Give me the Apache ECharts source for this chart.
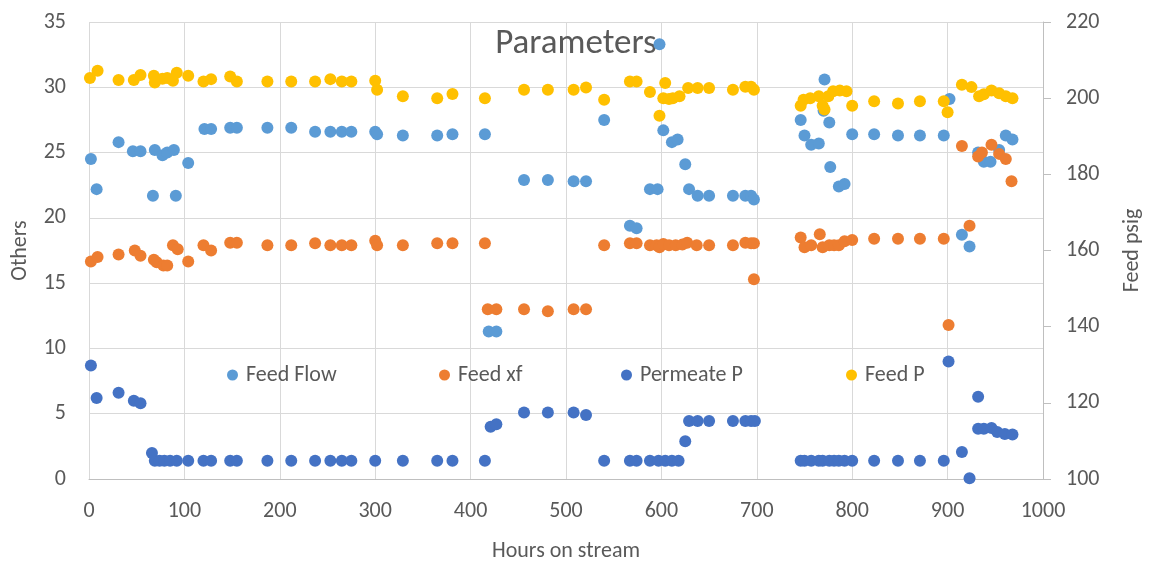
<!DOCTYPE html>
<html>
<head>
<meta charset="utf-8">
<script src="https://cdn.jsdelivr.net/npm/echarts@6/dist/echarts.min.js"></script>
<style>
  html, body { margin: 0; padding: 0; background: #fff; }
  #chart { width: 1151px; height: 567px; }
</style>
</head>
<body>
<div id="chart"></div>
<script>
// Hours on stream and readings for each measured parameter
const feedFlowHours = [2, 8, 31, 46, 54, 67, 69, 77, 82, 89, 91, 104, 121, 128, 148, 155, 187, 212, 237, 253, 265, 275, 300, 302, 329, 365, 381, 415, 419, 427, 456, 481, 508, 521, 540, 567, 574, 588, 596, 598, 602, 611, 617, 625, 629, 638, 650, 675, 688, 694, 697, 746, 750, 757, 765, 770, 771, 776, 777, 786, 792, 800, 823, 848, 871, 896, 902, 915, 923, 932, 938, 945, 954, 961, 968];
const feedFlow = [24.5, 22.2, 25.8, 25.1, 25.1, 21.7, 25.2, 24.8, 25.0, 25.2, 21.7, 24.2, 26.8, 26.8, 26.9, 26.9, 26.9, 26.9, 26.6, 26.6, 26.6, 26.6, 26.6, 26.4, 26.3, 26.3, 26.4, 26.4, 11.3, 11.3, 22.9, 22.9, 22.8, 22.8, 27.5, 19.4, 19.2, 22.2, 22.2, 33.3, 26.7, 25.8, 26.0, 24.1, 22.2, 21.7, 21.7, 21.7, 21.7, 21.7, 21.4, 27.5, 26.3, 25.6, 25.7, 28.2, 30.6, 27.3, 23.9, 22.4, 22.6, 26.4, 26.4, 26.3, 26.3, 26.3, 29.1, 18.7, 17.8, 25.0, 24.3, 24.3, 25.2, 26.3, 26.0];

const feedXfHours = [2, 9, 31, 48, 54, 68, 71, 78, 82, 88, 93, 104, 120, 128, 148, 155, 187, 212, 237, 253, 265, 275, 300, 302, 329, 365, 381, 415, 418, 427, 456, 481, 508, 521, 540, 567, 574, 588, 595, 598, 602, 608, 615, 622, 627, 637, 650, 675, 688, 694, 697, 697, 746, 750, 757, 766, 769, 776, 781, 786, 792, 800, 823, 848, 871, 896, 901, 915, 923, 932, 936, 946, 954, 961, 967];
const feedXf = [16.65, 17.0, 17.2, 17.5, 17.1, 16.8, 16.6, 16.35, 16.35, 17.9, 17.6, 16.65, 17.9, 17.5, 18.1, 18.1, 17.9, 17.9, 18.05, 17.9, 17.9, 17.9, 18.25, 17.9, 17.9, 18.05, 18.05, 18.05, 13.0, 13.0, 13.0, 12.85, 13.0, 13.0, 17.9, 18.05, 18.05, 17.9, 17.9, 17.75, 18.0, 17.9, 17.9, 17.95, 18.1, 17.9, 17.9, 17.9, 18.1, 18.05, 18.05, 15.3, 18.5, 17.75, 17.9, 18.75, 17.75, 17.9, 17.9, 17.9, 18.2, 18.3, 18.4, 18.4, 18.4, 18.4, 11.8, 25.5, 19.4, 24.7, 25.0, 25.6, 24.9, 24.5, 22.8];

const permeatePHours = [2, 8, 31, 47, 54, 66, 69, 74, 79, 85, 92, 104, 120, 128, 148, 155, 187, 212, 237, 253, 265, 275, 300, 329, 365, 381, 415, 421, 427, 456, 481, 508, 521, 540, 567, 574, 588, 597, 604, 611, 618, 625, 629, 638, 650, 675, 688, 694, 698, 746, 750, 757, 765, 769, 776, 781, 786, 792, 800, 823, 848, 871, 896, 901, 915, 923, 932, 932, 938, 946, 952, 960, 968];
const permeateP = [8.7, 6.2, 6.6, 6.0, 5.8, 2.0, 1.4, 1.4, 1.4, 1.4, 1.4, 1.4, 1.4, 1.4, 1.4, 1.4, 1.4, 1.4, 1.4, 1.4, 1.4, 1.4, 1.4, 1.4, 1.4, 1.4, 1.4, 4.0, 4.2, 5.1, 5.1, 5.1, 4.9, 1.4, 1.4, 1.4, 1.4, 1.4, 1.4, 1.4, 1.4, 2.9, 4.45, 4.45, 4.45, 4.45, 4.45, 4.45, 4.45, 1.4, 1.4, 1.4, 1.4, 1.4, 1.4, 1.4, 1.4, 1.4, 1.4, 1.4, 1.4, 1.4, 1.4, 9.0, 2.06, 0.05, 6.3, 3.85, 3.85, 3.9, 3.6, 3.45, 3.4];

const feedPHours = [1, 9, 31, 47, 54, 68, 69, 77, 82, 88, 92, 104, 120, 128, 148, 155, 187, 212, 237, 253, 265, 275, 300, 302, 329, 365, 381, 415, 456, 481, 508, 521, 540, 567, 574, 588, 598, 602, 604, 608, 612, 619, 628, 638, 650, 675, 688, 694, 697, 746, 749, 756, 765, 769, 771, 775, 780, 787, 794, 800, 823, 848, 871, 896, 900, 915, 925, 933, 938, 946, 954, 961, 968];
const feedP = [205.3, 207.2, 204.8, 204.8, 206.1, 205.9, 204.1, 205.1, 205.3, 204.6, 206.7, 205.9, 204.4, 205.0, 205.7, 204.4, 204.4, 204.4, 204.4, 205.0, 204.4, 204.4, 204.6, 202.2, 200.5, 200.0, 201.1, 200.0, 202.2, 202.2, 202.2, 202.8, 199.6, 204.4, 204.4, 201.6, 195.4, 200.0, 204.0, 199.8, 200.0, 200.5, 202.7, 202.7, 202.7, 202.2, 203.0, 203.0, 202.2, 198.0, 199.6, 200.0, 200.5, 198.0, 197.0, 200.5, 201.8, 202.0, 201.8, 198.0, 199.2, 198.6, 199.2, 199.2, 196.3, 203.5, 202.9, 200.5, 201.0, 202.0, 201.3, 200.5, 200.0];

// Axis ranges and tick steps
const hourTicks = { min: 0, max: 1000, step: 100 };
const othersTicks = { min: 0, max: 35, step: 5 };
const psigTicks = { min: 100, max: 220, step: 20 };

const seriesNames = ['Feed Flow', 'Feed xf', 'Permeate P', 'Feed P'];
const seriesColors = ['#5B9BD5', '#ED7D31', '#4472C4', '#FFC000'];

const FONT = 'Carlito, Lato, sans-serif';
const TEXT = '#595959';
const LABEL_SIZE = 22;

function pairs(hours, values) {
  return hours.map((h, i) => [h, values[i]]);
}

function scatter(idx, hours, values, yAxisIndex) {
  return {
    name: seriesNames[idx],
    type: 'scatter',
    yAxisIndex: yAxisIndex,
    symbol: 'circle',
    symbolSize: 12,
    itemStyle: { color: seriesColors[idx], opacity: 1 },
    emphasis: { disabled: true },
    data: pairs(hours, values)
  };
}

// one legend block per entry so each sits at its own spot along the row
const legendLefts = [227, 439, 621, 846];
const legends = seriesNames.map((n, i) => ({
  data: [{ name: n, icon: 'circle' }],
  left: legendLefts[i],
  top: 364,
  itemWidth: 11,
  itemHeight: 11,
  padding: 0,
  selectedMode: false,
  textStyle: { fontFamily: FONT, fontSize: LABEL_SIZE, color: TEXT, padding: [0, 0, 0, 3] }
}));

const chart = echarts.init(document.getElementById('chart'), null, { renderer: 'canvas' });
chart.setOption({
  animation: false,
  backgroundColor: '#ffffff',
  title: {
    text: 'Parameters',
    left: 571,
    textAlign: 'center',
    top: 22,
    z: 1,
    textStyle: { fontFamily: FONT, fontSize: 35, fontWeight: 'normal', color: TEXT }
  },
  legend: legends,
  grid: { left: 89, right: 102, top: 22, bottom: 86, containLabel: false },
  xAxis: {
    type: 'value',
    min: hourTicks.min, max: hourTicks.max, interval: hourTicks.step,
    name: 'Hours on stream',
    nameLocation: 'middle',
    nameGap: 61,
    nameTextStyle: { fontFamily: FONT, fontSize: LABEL_SIZE, color: TEXT },
    axisLine: { show: true, lineStyle: { color: '#BFBFBF', width: 1 } },
    axisTick: { show: false },
    axisLabel: { fontFamily: FONT, fontSize: LABEL_SIZE, color: TEXT, margin: 21, formatter: v => String(v) },
    splitLine: { show: true, lineStyle: { color: '#D9D9D9', width: 1 } }
  },
  yAxis: [
    {
      type: 'value',
      position: 'left',
      min: othersTicks.min, max: othersTicks.max, interval: othersTicks.step,
      name: 'Others',
      nameLocation: 'middle',
      nameRotate: 90,
      nameGap: 58,
      nameTextStyle: { fontFamily: FONT, fontSize: LABEL_SIZE, color: TEXT },
      axisLine: { show: false },
      axisTick: { show: false },
      axisLabel: { fontFamily: FONT, fontSize: LABEL_SIZE, color: TEXT, margin: 23 },
      splitLine: { show: true, lineStyle: { color: '#D9D9D9', width: 1 } }
    },
    {
      type: 'value',
      position: 'right',
      min: psigTicks.min, max: psigTicks.max, interval: psigTicks.step,
      name: 'Feed psig',
      nameLocation: 'middle',
      nameRotate: 90,
      nameGap: 78,
      nameTextStyle: { fontFamily: FONT, fontSize: LABEL_SIZE, color: TEXT },
      axisLine: { show: true, lineStyle: { color: '#BFBFBF', width: 1 } },
      axisTick: { show: true, inside: false, length: 8, lineStyle: { color: '#BFBFBF' } },
      axisLabel: { fontFamily: FONT, fontSize: LABEL_SIZE, color: TEXT, margin: 23 },
      splitLine: { show: false }
    }
  ],
  series: [
    scatter(0, feedFlowHours, feedFlow, 0),
    scatter(1, feedXfHours, feedXf, 0),
    scatter(2, permeatePHours, permeateP, 0),
    scatter(3, feedPHours, feedP, 1)
  ]
});
</script>
</body>
</html>
